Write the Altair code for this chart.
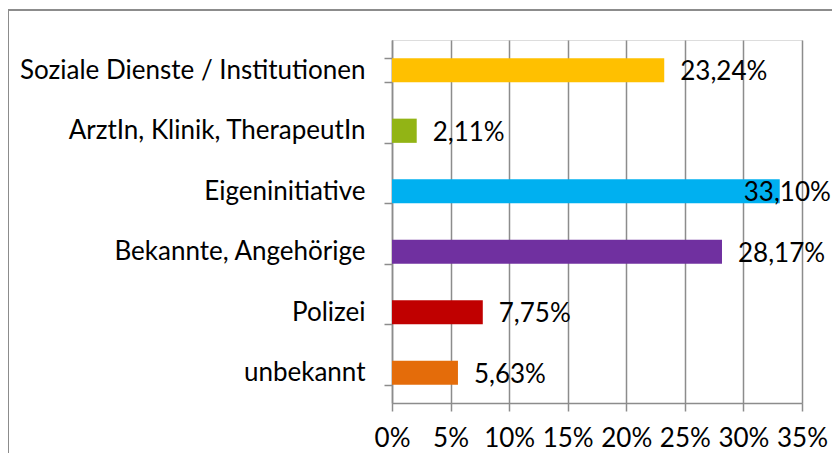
import altair as alt
import pandas as pd

categories = [
    "Soziale Dienste / Institutionen",
    "ArztIn, Klinik, TherapeutIn",
    "Eigeninitiative",
    "Bekannte, Angehörige",
    "Polizei",
    "unbekannt",
]
values = [23.24, 2.11, 33.10, 28.17, 7.75, 5.63]
labels = ["23,24%", "2,11%", "33,10%", "28,17%", "7,75%", "5,63%"]
colors = ["#FFC000", "#92B415", "#00B0F0", "#7030A0", "#C00000", "#E46C0A"]
x_ticks = [0, 5, 10, 15, 20, 25, 30, 35]
inside_label = "Eigeninitiative"

df = pd.DataFrame({"cat": categories, "val": values, "label": labels, "color": colors})

FONT = "Lato"
FS = 26
GRAY = "#8C8C8C"

y_enc = alt.Y(
    "cat:N",
    sort=categories,
    scale=alt.Scale(paddingInner=0.6, paddingOuter=0.3),
    axis=alt.Axis(
        title=None,
        tickBand="extent",
        tickSize=8,
        tickColor=GRAY,
        tickWidth=1.5,
        domainColor=GRAY,
        domainWidth=1.5,
        labelFont=FONT,
        labelFontSize=FS,
        labelColor="#000000",
        labelPadding=19,
        labelLimit=400,
        grid=False,
    ),
)

x_enc = alt.X(
    "val:Q",
    scale=alt.Scale(domain=[0, 35], nice=False),
    axis=alt.Axis(
        title=None,
        values=x_ticks,
        labelExpr="datum.value + '%'",
        labelOverlap=False,
        labelFlush=False,
        tickSize=8,
        tickColor=GRAY,
        tickWidth=1.5,
        domainColor=GRAY,
        domainWidth=1.5,
        grid=True,
        gridColor=GRAY,
        gridWidth=1.5,
        labelFont=FONT,
        labelFontSize=FS,
        labelColor="#000000",
        labelPadding=14,
    ),
)

bars = alt.Chart(df).mark_bar(clip=False).encode(
    x=x_enc,
    y=y_enc,
    color=alt.Color("color:N", scale=None),
)

text_out = alt.Chart(df).transform_filter(
    alt.datum.cat != inside_label
).mark_text(
    align="left", baseline="middle", dx=16, dy=2, font=FONT, fontSize=FS, color="#000000"
).encode(
    x="val:Q",
    y=alt.Y("cat:N", sort=categories),
    text="label:N",
)

text_in = alt.Chart(df).transform_filter(
    alt.datum.cat == inside_label
).mark_text(
    align="left", baseline="middle", dx=-36, dy=2, font=FONT, fontSize=FS, color="#000000"
).encode(
    x="val:Q",
    y=alt.Y("cat:N", sort=categories),
    text="label:N",
)

frame_df = pd.DataFrame({"a": [0]})
frame = alt.Chart(frame_df).mark_rect(filled=False, stroke=GRAY, strokeWidth=2, clip=False).encode(
    x=alt.value(-384),
    x2=alt.value(600),
    y=alt.value(-30),
    y2=alt.value(600),
)

chart = alt.layer(frame, bars, text_out, text_in).properties(
    width=410,
    height=363,
    autosize=alt.AutoSizeParams(type="none"),
    padding={"left": 384, "top": 32, "right": 30, "bottom": 50},
).configure_view(stroke=None).configure(background="white")

chart.save("out.html", embed_options={"renderer": "svg", "actions": False})
